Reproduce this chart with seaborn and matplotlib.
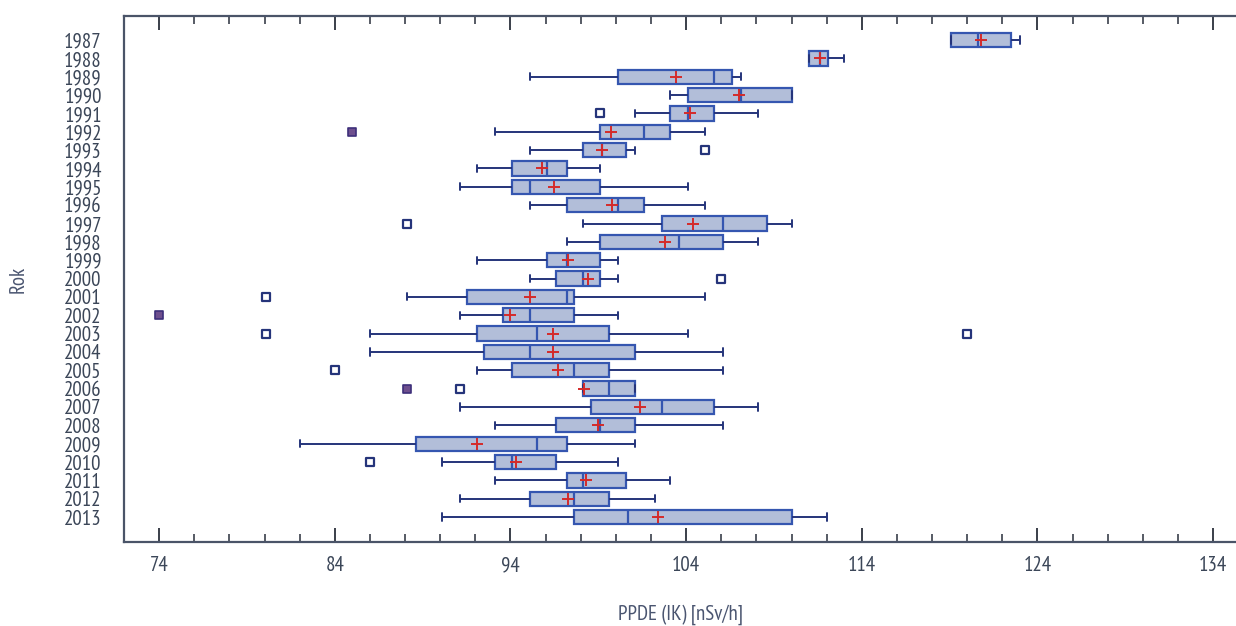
import numpy as np
import pandas as pd
import matplotlib
matplotlib.use("Agg")
import matplotlib.pyplot as plt
import seaborn as sns

# ---- data ----
years = [str(y) for y in range(1987, 2014)]
whisker_lo = [119.1, 111.0, 95.1, 103.1, 101.1, 93.1, 95.1, 92.1, 91.1, 95.1,
              98.1, 97.2, 92.1, 95.1, 88.1, 91.1, 86.0, 86.0, 92.1, 98.1,
              91.1, 93.1, 82.0, 90.1, 93.1, 91.1, 90.1]
q1 = [119.1, 111.0, 100.1, 104.1, 103.1, 99.1, 98.1, 94.1, 94.1, 97.2,
      102.6, 99.1, 96.1, 96.6, 91.5, 93.6, 92.1, 92.5, 94.1, 98.1,
      98.6, 96.6, 88.6, 93.1, 97.2, 95.1, 97.6]
median = [120.6, 111.6, 105.6, 107.1, 104.1, 101.6, 99.2, 96.1, 95.1, 100.1,
          106.1, 103.6, 97.2, 98.1, 97.2, 95.1, 95.5, 95.1, 97.6, 99.6,
          102.6, 99.1, 95.5, 94.1, 98.1, 97.6, 100.7]
q3 = [122.5, 112.1, 106.6, 110.0, 105.6, 103.1, 100.6, 97.2, 99.1, 101.6,
      108.6, 106.1, 99.1, 99.1, 97.6, 97.6, 99.6, 101.1, 99.6, 101.1,
      105.6, 101.1, 97.2, 96.6, 100.6, 99.6, 110.0]
whisker_hi = [123.0, 113.0, 107.1, 110.0, 108.1, 105.1, 101.1, 99.1, 104.1, 105.1,
              110.0, 108.1, 100.1, 100.1, 105.1, 100.1, 104.1, 106.1, 106.1, 101.1,
              108.1, 106.1, 101.1, 100.1, 103.1, 102.2, 112.0]
means = [120.8, 111.6, 103.4, 107.0, 104.2, 99.7, 99.2, 95.8, 96.5, 99.8,
         104.4, 102.8, 97.3, 98.4, 95.1, 94.0, 96.4, 96.4, 96.7, 98.2,
         101.4, 99.0, 92.1, 94.3, 98.3, 97.3, 102.4]
# outside points (open squares) and far outside points (filled)
out_years = ["1991", "1993", "1997", "2000", "2001", "2003", "2003", "2005", "2006", "2010"]
out_values = [99.1, 105.1, 88.1, 106.0, 80.1, 80.1, 120.0, 84.0, 91.1, 86.0]
far_years = ["1992", "2002", "2006"]
far_values = [85.0, 74.0, 88.1]

x_major = [74, 84, 94, 104, 114, 124, 134]
x_label = "PPDE (IK) [nSv/h]"
y_label = "Rok"

# ---- long-form table: five summary points per year so that the
# box (q1/median/q3) and full-range whiskers are computed by seaborn ----
rows = []
for i, y in enumerate(years):
    for v in (whisker_lo[i], q1[i], median[i], q3[i], whisker_hi[i]):
        rows.append({"Rok": y, "val": v})
df = pd.DataFrame(rows)

sns.set_theme(style="white")
FONT = ["Liberation Sans Narrow", "Arial Narrow", "PT Sans Narrow",
        "Archivo Narrow", "Roboto Condensed", "Liberation Sans", "DejaVu Sans"]
plt.rcParams["font.family"] = FONT

W, H = 1236, 626
fig = plt.figure(figsize=(W / 100, H / 100), dpi=100)
ax = fig.add_axes([124 / W, (H - 542) / H, (W - 124) / W, (542 - 16) / H])

box_face = "#b2bed9"
box_edge = "#3556b0"
navy = "#25347a"
txt = "#3b4658"

sns.boxplot(data=df, x="val", y="Rok", order=years, orient="h", ax=ax,
            whis=(0, 100), width=0.78, showfliers=False, color=box_face,
            saturation=1, linewidth=1.6,
            boxprops=dict(facecolor=box_face, edgecolor=box_edge, linewidth=1.6),
            medianprops=dict(color=box_edge, linewidth=1.6),
            whiskerprops=dict(color=navy, linewidth=1.4),
            capprops=dict(color=navy, linewidth=1.4))

sns.scatterplot(x=means, y=years, ax=ax, marker="+", color="#d42a2a",
                s=75, linewidth=1.4, zorder=5, legend=False)
sns.scatterplot(x=out_values, y=out_years, ax=ax, marker="s", s=30,
                facecolor="white", edgecolor=navy, linewidth=1.6, zorder=5,
                legend=False)
sns.scatterplot(x=far_values, y=far_years, ax=ax, marker="s", s=30,
                color="#6e4f8e", edgecolor="#3d2f7a", linewidth=1.2, zorder=5,
                legend=False)

ax.set_xlim(72.14, 135.3)
ax.set_ylim(27.36, -1.31)
ax.set_xticks(x_major)
ax.set_xticks([v for v in range(72, 136, 2) if v not in x_major], minor=True)
ax.set_xticklabels([str(v) for v in x_major])

for side in ("left", "top", "bottom"):
    ax.spines[side].set_visible(True)
    ax.spines[side].set_color("#4a5468")
    ax.spines[side].set_linewidth(1.6)
ax.spines["right"].set_visible(False)

ax.tick_params(axis="x", which="major", direction="in", top=True, bottom=True,
               length=10, width=1.4, color="#3a3f4a", labelsize=15,
               labelcolor=txt, pad=10)
ax.tick_params(axis="x", which="minor", direction="in", top=True, bottom=True,
               length=6, width=1.2, color="#3a3f4a")
ax.tick_params(axis="y", length=0, labelsize=15, labelcolor=txt, pad=16)

ax.set_xlabel(x_label, fontsize=15, color="#4a5570", labelpad=21)
ax.set_ylabel(y_label, fontsize=15, color="#4a5570", labelpad=26)
ax.grid(False)

fig.savefig("out.png", dpi=100, facecolor="white")
